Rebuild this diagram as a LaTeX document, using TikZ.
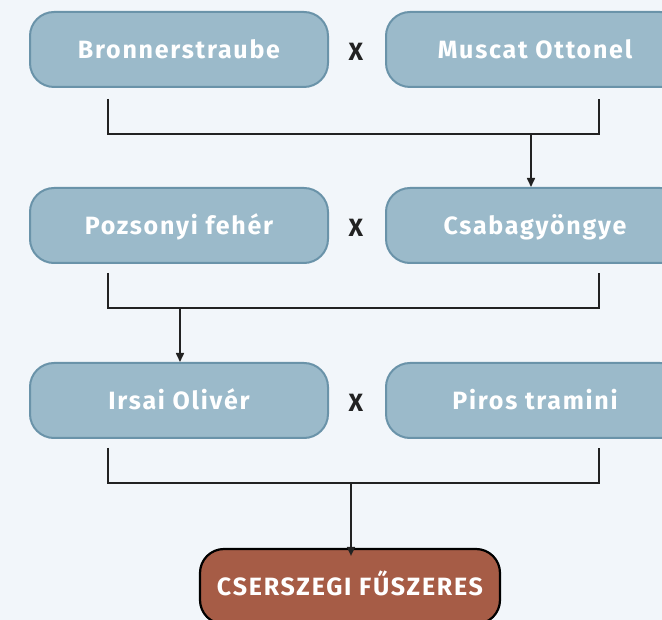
\documentclass[tikz,border=0pt]{standalone}
\usepackage{fontspec}
\setmainfont{Fira Sans}
\newfontfamily\spfont[LetterSpace=7]{Fira Sans}
\usetikzlibrary{arrows.meta}
\definecolor{bg}{HTML}{F2F6FA}
\definecolor{boxfill}{HTML}{9BBACA}
\definecolor{boxdraw}{HTML}{6A93A9}
\definecolor{finfill}{HTML}{A65C46}
\definecolor{linec}{HTML}{222222}
\tikzset{
  parent/.style={rectangle, rounded corners=24pt, fill=boxfill, draw=boxdraw, line width=2pt,
    minimum width=298pt, minimum height=75pt, inner sep=0pt,
    text height=17.2pt, text depth=0pt,
    font=\spfont\bfseries\fontsize{25}{28}\selectfont, text=white},
  final/.style={rectangle, rounded corners=24pt, fill=finfill, draw=black, line width=2.2pt,
    minimum width=300pt, minimum height=75pt, inner sep=0pt,
    text height=17.2pt, text depth=0pt,
    font=\spfont\bfseries\fontsize{25}{28}\selectfont, text=white},
  cross/.style={font=\bfseries\fontsize{25}{28}\selectfont, text=linec, inner sep=0pt,
    text height=17.2pt, text depth=0pt},
  bracket/.style={draw=linec, line width=1.6pt},
  arr/.style={draw=linec, line width=1.6pt, -{Triangle[length=9pt,width=8pt]}}
}
\begin{document}
\begin{tikzpicture}[x=1pt,y=-1pt]
\fill[bg] (0,0) rectangle (662,620);
\useasboundingbox (0,0) rectangle (662,620);
\clip (0,0) rectangle (662,620);
% row 1
\node[parent] (a1) at (179,49.5) {Bronnerstraube};
\node[parent] (b1) at (535,49.5) {Muscat Ottonel};
\node[cross] (x1) at (356,52) {X};
% row 2
\node[parent] (a2) at (179,225.5) {Pozsonyi fehér};
\node[parent] (b2) at (535,225.5) {Csabagyöngye};
\node[cross] (x2) at (356,228) {X};
% row 3
\node[parent] (a3) at (179,400.5) {Irsai Olivér};
\node[parent] (b3) at (535,400.5) {Piros tramini};
\node[cross] (x3) at (356,403) {X};
% final
\node[final] (f) at (350,586.5) {CSERSZEGI FŰSZERES};
% brackets
\coordinate (l1) at (108,99); \coordinate (r1) at (599,99);
\coordinate (m1) at (531,134);
\draw[bracket] (l1) |- (r1 |- m1) -- (r1);
\draw[arr] (m1) -- (b2.north -| m1);
\coordinate (l2) at (108,273); \coordinate (r2) at (599,273);
\coordinate (m2) at (180,308);
\draw[bracket] (l2) |- (r2 |- m2) -- (r2);
\draw[arr] (m2) -- (a3.north -| m2);
\coordinate (l3) at (108,448); \coordinate (r3) at (599,448);
\coordinate (m3) at (351,483);
\draw[bracket] (l3) |- (r3 |- m3) -- (r3);
\draw[arr] (m3) -- ([yshift=-8pt]f.north -| m3);
\end{tikzpicture}
\end{document}
